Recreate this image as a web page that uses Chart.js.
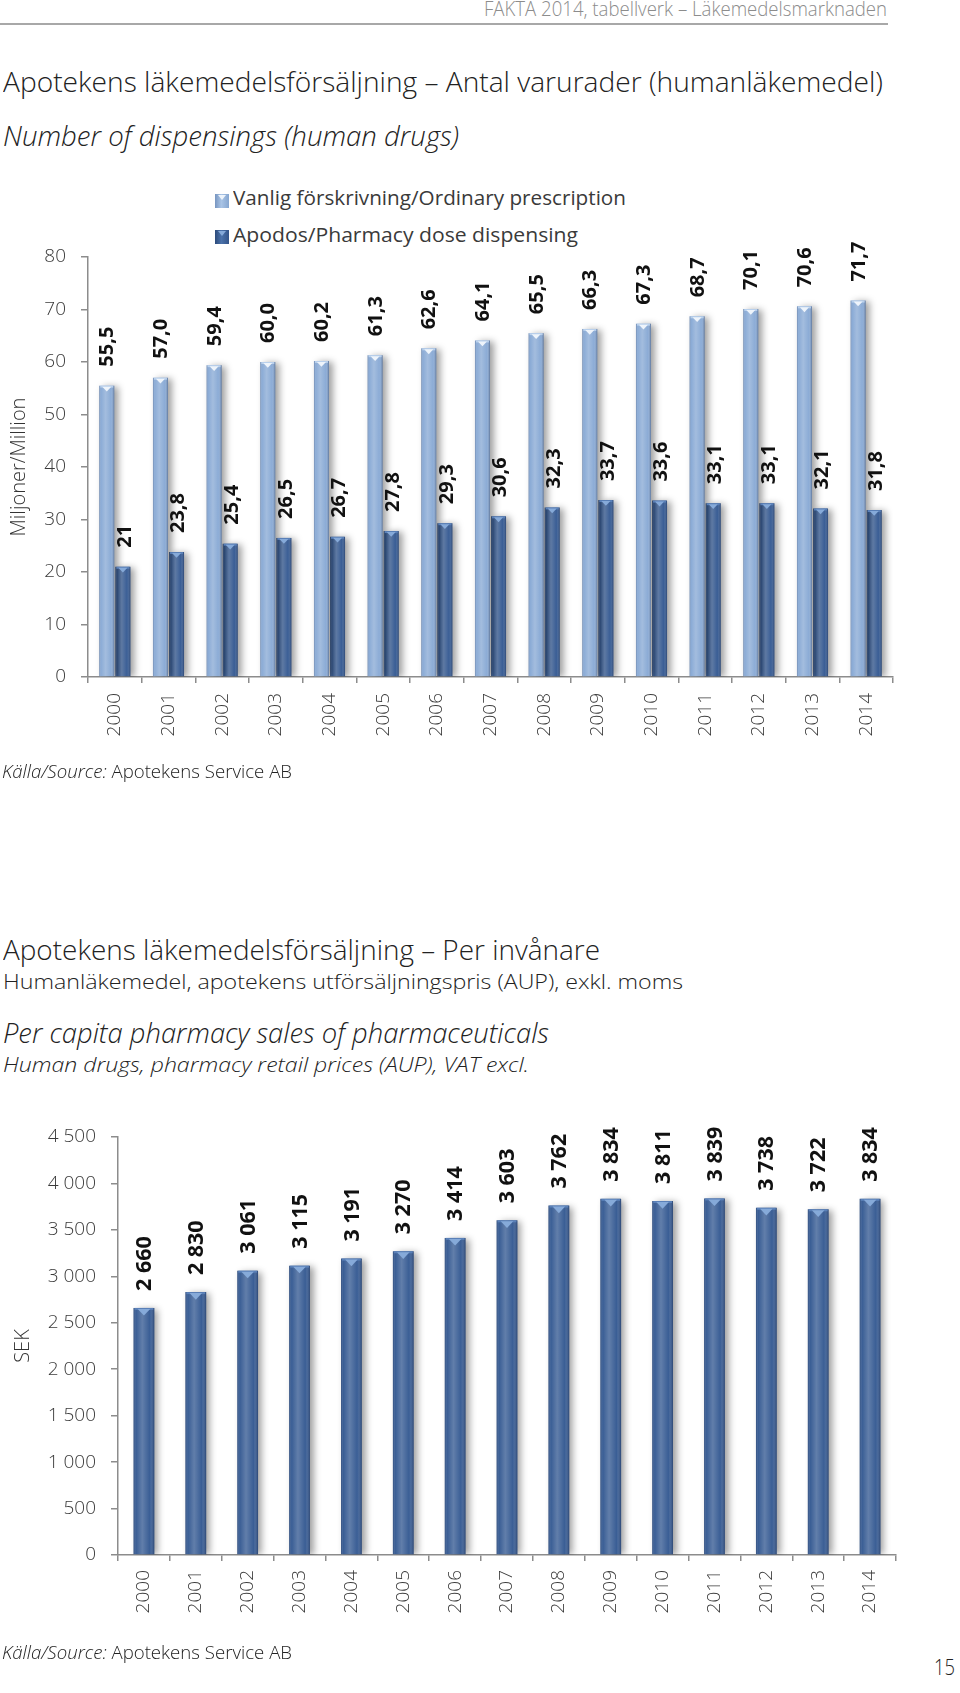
<!DOCTYPE html>
<html><head><meta charset="utf-8">
<script src="https://cdn.jsdelivr.net/npm/chart.js@4"></script>
<style>
html,body{margin:0;padding:0;background:#fff;}
#page{position:relative;width:960px;height:1693px;overflow:hidden;font-family:'Open Sans',sans-serif;color:#222;}
.t{position:absolute;white-space:nowrap;line-height:1;transform-origin:0 0;font-weight:300;}
.box{position:absolute;}
.sw{position:absolute;width:14px;height:14px;box-sizing:border-box;}
.sw::after{content:"";position:absolute;left:3px;top:1px;border-left:4px solid transparent;border-right:4px solid transparent;border-top:5px solid var(--cap);}
</style></head>
<body><div id="page">
<div class="t" data-x="484" data-w="403" data-cy="11" data-fs="20" style="color:#8c8c8c">FAKTA 2014, tabellverk – Läkemedelsmarknaden</div>
<div style="position:absolute;left:0;top:23px;width:888px;height:2px;background:#a8a8a8"></div>
<div class="t" data-x="3" data-w="880" data-cy="84" data-fs="27">Apotekens läkemedelsförsäljning – Antal varurader (humanläkemedel)</div>
<div class="t" data-x="3" data-w="456" data-cy="138" data-fs="27" style="font-style:italic">Number of dispensings (human drugs)</div>

<div class="sw" style="left:215px;top:194px;background:linear-gradient(90deg,#7795c0,#a9c4e6 45%,#86a6d0);--cap:#eef4fb"></div>
<div class="t" data-x="233" data-w="393" data-cy="200" data-fs="20" style="font-weight:400;color:#3a3a3a">Vanlig förskrivning/Ordinary prescription</div>
<div class="sw" style="left:215px;top:230px;background:linear-gradient(90deg,#2c4a7a,#4b72aa 45%,#34558a);--cap:#86aad9"></div>
<div class="t" data-x="233" data-w="345" data-cy="237" data-fs="20" style="font-weight:400;color:#3a3a3a">Apodos/Pharmacy dose dispensing</div>

<div class="box" style="left:0;top:170px;width:960px;height:630px"><canvas id="c1" width="960" height="630"></canvas></div>

<div class="t" data-x="2" data-w="290" data-cy="773" data-fs="19"><i>Källa/Source:</i> Apotekens Service AB</div>

<div class="t" data-x="3" data-w="597" data-cy="952" data-fs="27">Apotekens läkemedelsförsäljning – Per invånare</div>
<div class="t" data-x="3" data-w="680" data-cy="984" data-fs="21">Humanläkemedel, apotekens utförsäljningspris (AUP), exkl. moms</div>
<div class="t" data-x="3" data-w="546" data-cy="1035" data-fs="27" style="font-style:italic">Per capita pharmacy sales of pharmaceuticals</div>
<div class="t" data-x="3" data-w="526" data-cy="1067" data-fs="21" style="font-style:italic">Human drugs, pharmacy retail prices (AUP), VAT excl.</div>

<div class="box" style="left:0;top:1090px;width:960px;height:560px"><canvas id="c2" width="960" height="560"></canvas></div>

<div class="t" data-x="2" data-w="290" data-cy="1654" data-fs="19"><i>Källa/Source:</i> Apotekens Service AB</div>
<div class="t" data-x="934" data-w="21" data-cy="1668" data-fs="22">15</div>
</div>
<script>
// ---------- data ----------
const years = ['2000','2001','2002','2003','2004','2005','2006','2007','2008','2009','2010','2011','2012','2013','2014'];
const ordinaryValues = [55.5, 57.0, 59.4, 60.0, 60.2, 61.3, 62.6, 64.1, 65.5, 66.3, 67.3, 68.7, 70.1, 70.6, 71.7];
const apodosValues = [21, 23.8, 25.4, 26.5, 26.7, 27.8, 29.3, 30.6, 32.3, 33.7, 33.6, 33.1, 33.1, 32.1, 31.8];
const apodosLabels = ['21','23,8','25,4','26,5','26,7','27,8','29,3','30,6','32,3','33,7','33,6','33,1','33,1','32,1','31,8'];
const perCapitaValues = [2660, 2830, 3061, 3115, 3191, 3270, 3414, 3603, 3762, 3834, 3811, 3839, 3738, 3722, 3834];
const yTicks1 = [0, 10, 20, 30, 40, 50, 60, 70, 80];
const yTicks2 = [0, 500, 1000, 1500, 2000, 2500, 3000, 3500, 4000, 4500];
const seriesNames = ['Vanlig förskrivning/Ordinary prescription', 'Apodos/Pharmacy dose dispensing'];

const fmt1 = v => v.toFixed(1).replace('.', ',');
const fmtK = v => v >= 1000 ? Math.floor(v / 1000) + ' ' + String(v % 1000).padStart(3, '0') : String(v);
const ordinaryLabels = ordinaryValues.map(fmt1);
const perCapitaLabels = perCapitaValues.map(fmtK);

// ---------- text placement ----------
function placeTexts() {
  document.querySelectorAll('.t').forEach(el => {
    const fs = +el.dataset.fs;
    el.style.fontSize = fs + 'px';
    el.style.transform = 'none';
    el.style.left = el.dataset.x + 'px';
    el.style.top = (+el.dataset.cy - fs * 0.6) + 'px';
    const w = el.getBoundingClientRect().width;
    el.style.transform = 'scaleX(' + (+el.dataset.w / w) + ')';
  });
}
placeTexts();
if (document.fonts && document.fonts.ready) document.fonts.ready.then(placeTexts);

// ---------- bar decoration plugin ----------
const barDeco = {
  id: 'barDeco',
  beforeDatasetsDraw(chart) {
    const c = chart.ctx;
    c.save();
    c.shadowColor = 'rgba(0,0,0,0.38)';
    c.shadowBlur = 7;
    c.shadowOffsetX = 4;
    c.shadowOffsetY = 1;
  },
  afterDatasetsDraw(chart) {
    const c = chart.ctx;
    c.restore();
    chart.data.datasets.forEach((ds, di) => {
      const meta = chart.getDatasetMeta(di);
      const d = ds.deco;
      meta.data.forEach((el, i) => {
        const p = el.getProps(['x', 'y', 'base', 'width'], true);
        const l = p.x - p.width / 2, r = p.x + p.width / 2;
        const g = c.createLinearGradient(l, 0, r, 0);
        g.addColorStop(0, 'rgba(10,25,60,0.30)');
        g.addColorStop(0.12, 'rgba(255,255,255,0)');
        g.addColorStop(0.42, 'rgba(255,255,255,0.20)');
        g.addColorStop(0.78, 'rgba(255,255,255,0)');
        g.addColorStop(1, 'rgba(10,25,60,0.38)');
        c.fillStyle = g;
        c.fillRect(l, p.y, p.width, p.base - p.y);
        // top cap
        c.fillStyle = d.band;
        c.fillRect(l + 1, p.y, p.width - 2, 2);
        c.fillStyle = d.cap;
        c.beginPath();
        c.moveTo(l + p.width * 0.2, p.y + 1);
        c.lineTo(r - p.width * 0.2, p.y + 1);
        c.lineTo(p.x, p.y + 1 + p.width * 0.32);
        c.closePath();
        c.fill();
        // value label
        c.save();
        c.translate(p.x + d.dx, p.y - d.gap);
        c.rotate(-Math.PI / 2);
        c.font = 'bold ' + d.size + 'px "Open Sans"';
        c.fillStyle = '#111';
        c.textAlign = 'left';
        c.textBaseline = 'middle';
        c.fillText(d.labels[i], 0, 0);
        c.restore();
      });
    });
  }
};

const axisColor = '#8c8c8c';
function xAxis(h, pad) {
  return {
    type: 'category',
    offset: true,
    afterFit: s => { s.height = h; },
    border: { display: true, color: axisColor, width: 1.5 },
    grid: { display: true, offset: true, drawOnChartArea: false, drawTicks: true, tickLength: 6, color: axisColor, lineWidth: 1.5 },
    ticks: { autoSkip: false, minRotation: 90, maxRotation: 90, padding: pad, color: '#3a3a3a',
             font: { family: 'Open Sans', size: 19, weight: '300' } }
  };
}
function yAxis(w, ticksArr, max, title, titlePad, fmt) {
  return {
    min: 0, max: max,
    afterFit: s => { s.width = w; },
    afterBuildTicks: s => { s.ticks = ticksArr.map(v => ({ value: v })); },
    border: { display: true, color: axisColor, width: 1.5 },
    grid: { display: true, drawOnChartArea: false, drawTicks: true, tickLength: 7, color: axisColor, lineWidth: 1.5 },
    ticks: { padding: 15, color: '#3a3a3a', font: { family: 'Open Sans', size: 19, weight: '300' },
             callback: v => fmt(v) },
    title: { display: true, text: title, color: '#333', padding: { top: titlePad, bottom: 0 },
             font: { family: 'Open Sans', size: 20, weight: '300' } }
  };
}

new Chart(document.getElementById('c1'), {
  type: 'bar',
  data: {
    labels: years,
    datasets: [
      { label: seriesNames[0], data: ordinaryValues, backgroundColor: '#8cacd6',
        categoryPercentage: 0.6, barPercentage: 0.93,
        deco: { labels: ordinaryLabels, cap: '#eef4fb', band: '#b9d0ec', gap: 19, dx: 1, size: 20 } },
      { label: seriesNames[1], data: apodosValues, backgroundColor: '#3a5e95',
        categoryPercentage: 0.6, barPercentage: 0.93,
        deco: { labels: apodosLabels, cap: '#86aad9', band: '#5a80b8', gap: 19, dx: 2, size: 20 } }
    ]
  },
  options: {
    responsive: false, animation: false,
    layout: { padding: { top: 87, right: 67, left: 0, bottom: 0 } },
    plugins: { legend: { display: false }, tooltip: { enabled: false } },
    scales: { x: xAxis(123, 10), y: yAxis(88, yTicks1, 80, 'Miljoner/Million', 7, v => String(v)) }
  },
  plugins: [barDeco]
});

new Chart(document.getElementById('c2'), {
  type: 'bar',
  data: {
    labels: years,
    datasets: [
      { label: 'SEK', data: perCapitaValues, backgroundColor: '#3a5e95',
        categoryPercentage: 1, barPercentage: 0.4,
        deco: { labels: perCapitaLabels, cap: '#86aad9', band: '#5a80b8', gap: 17, dx: 1, size: 21.5 } }
    ]
  },
  options: {
    responsive: false, animation: false,
    layout: { padding: { top: 47, right: 64, left: 0, bottom: 0 } },
    plugins: { legend: { display: false }, tooltip: { enabled: false } },
    scales: { x: xAxis(95, 9), y: yAxis(118, yTicks2, 4500, 'SEK', 11, fmtK) }
  },
  plugins: [barDeco]
});
</script>
</body></html>
